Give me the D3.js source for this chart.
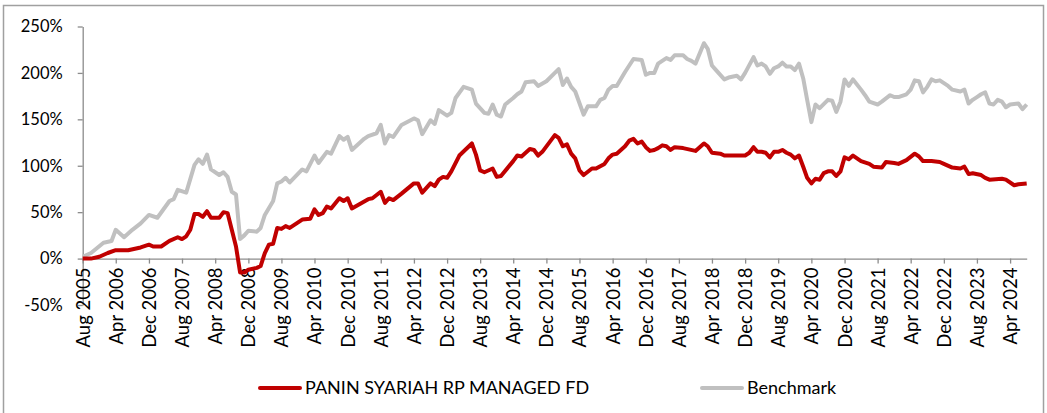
<!DOCTYPE html>
<html>
<head>
<meta charset="utf-8">
<script src="https://cdn.jsdelivr.net/npm/d3@7"></script>
<style>
  body { margin: 0; background: #fff; }
  svg text { font-family: Lato, "Liberation Sans", sans-serif; fill: #000; }
</style>
</head>
<body>
<div class="chart-box"></div>
<script>
// month offsets from Aug 2005, cumulative return in %
var startDate = new Date(2005, 7, 1);
var lastMonth = 228;

var fundName = "PANIN SYARIAH RP MANAGED FD";
var benchName = "Benchmark";

var fund = [[0,0],[2,0],[4,2],[6,6],[8,9],[11,9],[14,12],[16,15],[17,13],[19,13],[21,19],[23,23],[24,21],[25,24],[26,31],[27,48],[28,48],[29,45],[30,51],[31,44],[33,44],[34,50],[35,49],[36,31],[37,13],[38,-15],[39,-15],[40,-12],[42,-10],[43,-8],[44,6],[45,15],[46,16],[47,33],[48,32],[49,35],[50,33],[53,42],[55,43],[56,53],[57,47],[58,49],[59,56],[60,54],[62,65],[63,62],[64,65],[65,54],[69,64],[70,65],[72,72],[73,60],[74,65],[75,63],[77,70],[80,81],[81,81],[82,71],[84,81],[85,78],[86,85],[87,88],[88,87],[89,94],[91,111],[94,124],[95,112],[96,95],[97,93],[99,97],[100,88],[101,89],[104,105],[105,111],[106,110],[108,118],[109,117],[110,111],[111,115],[114,133],[115,130],[116,121],[117,123],[118,113],[119,108],[120,95],[121,90],[123,97],[124,97],[126,102],[127,108],[128,112],[129,113],[131,121],[132,127],[133,129],[134,124],[135,126],[136,120],[137,116],[138,117],[139,119],[140,122],[141,121],[142,117],[143,120],[145,119],[148,116],[150,124],[151,121],[152,114],[154,113],[155,111],[160,111],[161,114],[162,120],[163,115],[164,115],[165,114],[166,109],[167,115],[168,115],[169,117],[170,114],[171,112],[172,108],[173,111],[174,99],[175,87],[176,81],[177,86],[178,85],[179,92],[180,94],[181,94],[182,89],[183,94],[184,109],[185,107],[186,111],[188,105],[190,102],[191,99],[193,98],[194,104],[196,103],[197,102],[199,106],[201,113],[202,110],[203,105],[205,105],[207,104],[208,102],[210,98],[212,97],[213,99],[214,91],[215,92],[217,90],[218,87],[219,85],[222,86],[223,85],[225,79],[226,80],[228,81]];

var bench = [[0,2],[2,6],[5,17],[7,19],[8,31],[10,23],[12,31],[14,38],[16,47],[18,44],[21,62],[22,64],[23,74],[25,71],[27,101],[28,107],[29,102],[30,112],[31,96],[33,90],[34,93],[35,88],[36,72],[37,69],[38,21],[39,25],[40,30],[42,29],[43,33],[44,47],[46,62],[47,81],[48,83],[49,87],[50,82],[53,96],[54,94],[56,111],[57,103],[59,115],[60,113],[62,132],[63,128],[64,131],[65,117],[68,129],[69,132],[71,135],[72,144],[73,124],[74,133],[75,131],[77,144],[80,151],[81,149],[82,134],[84,149],[85,145],[86,160],[87,157],[88,154],[89,157],[90,173],[92,185],[94,182],[95,167],[97,157],[98,156],[99,166],[100,155],[101,153],[102,166],[104,173],[105,177],[106,180],[107,190],[109,191],[110,186],[112,191],[114,200],[115,204],[116,187],[117,194],[118,185],[119,180],[121,155],[122,164],[124,164],[125,171],[126,173],[127,182],[128,186],[129,186],[131,201],[133,215],[135,214],[136,198],[137,200],[138,200],[139,210],[141,216],[142,214],[143,219],[145,219],[146,215],[147,213],[148,210],[150,232],[151,226],[152,208],[153,203],[155,193],[156,195],[158,197],[159,193],[160,200],[162,217],[163,208],[164,210],[165,207],[166,199],[167,205],[168,207],[169,211],[170,207],[171,207],[172,203],[173,210],[174,194],[175,171],[176,147],[177,166],[178,162],[180,171],[181,170],[182,158],[183,169],[184,193],[185,186],[186,193],[188,182],[189,176],[190,169],[192,166],[193,169],[195,176],[196,174],[197,174],[199,177],[200,182],[201,192],[202,191],[203,179],[204,185],[205,193],[206,191],[207,192],[209,186],[210,182],[212,180],[213,182],[214,167],[215,171],[216,174],[217,177],[218,179],[219,167],[220,166],[221,171],[222,169],[223,163],[224,166],[226,167],[227,161],[228,166]];

var yTicks = [-50, 0, 50, 100, 150, 200, 250];
var tickEvery = 8;

var width = 1047, height = 413;
var plot = {left: 82.7, right: 1026.7, top: 26.5, bottom: 305};

var svg = d3.select('.chart-box').append("svg")
    .attr("width", width)
    .attr("height", height);

// outer frame
svg.append("rect")
    .attr("x", 3.5).attr("y", 5.5)
    .attr("width", 1040).attr("height", 420)
    .attr("fill", "none")
    .attr("stroke", "#a0a0a0")
    .attr("stroke-width", 1.5);

var x = d3.scaleTime()
    .domain([startDate, d3.timeMonth.offset(startDate, lastMonth)])
    .range([plot.left, plot.right]);

var y = d3.scaleLinear()
    .domain([-50, 250])
    .range([plot.bottom, plot.top]);

function monthDate(m) { return d3.timeMonth.offset(startDate, m); }

// y axis
var yAxis = svg.append("g")
    .attr("transform", "translate(" + plot.left + ",0)")
    .call(d3.axisLeft(y).tickValues(yTicks).tickSize(5).tickSizeOuter(0)
      .tickFormat(function(d) { return d + "%"; }));
yAxis.selectAll("line, path").attr("stroke", "#8c8c8c").attr("stroke-width", 1.3);
yAxis.selectAll("text")
    .attr("x", -20)
    .style("font-size", "16.5px");

// x axis at 0%
var xTickVals = d3.range(0, lastMonth, tickEvery).map(monthDate);
var xAxis = svg.append("g")
    .attr("transform", "translate(0," + y(0) + ")")
    .call(d3.axisBottom(x).tickValues(xTickVals).tickSize(5).tickSizeOuter(0)
      .tickFormat(d3.timeFormat("%b %Y")));
xAxis.selectAll("line, path").attr("stroke", "#8c8c8c").attr("stroke-width", 1.3);
xAxis.selectAll("text")
    .attr("transform", "rotate(-90)")
    .attr("x", -9)
    .attr("y", 0)
    .attr("dy", "0.35em")
    .style("text-anchor", "end")
    .style("font-size", "18.5px");

var line = d3.line()
    .x(function(d) { return x(monthDate(d[0])); })
    .y(function(d) { return y(d[1]); });

svg.append("path")
    .datum(bench)
    .attr("fill", "none")
    .attr("stroke", "#c0c0c0")
    .attr("stroke-width", 4)
    .attr("stroke-linejoin", "round")
    .attr("d", line);

svg.append("path")
    .datum(fund)
    .attr("fill", "none")
    .attr("stroke", "#c00000")
    .attr("stroke-width", 4)
    .attr("stroke-linejoin", "round")
    .attr("d", line);

// legend
var legend = [
  {name: fundName, color: "#c00000", x: 260},
  {name: benchName, color: "#c0c0c0", x: 702}
];
var lg = svg.append("g").selectAll("g")
    .data(legend)
    .enter().append("g")
    .attr("transform", function(d) { return "translate(" + d.x + ",388)"; });
lg.append("line")
    .attr("x1", 0).attr("x2", 40)
    .attr("stroke", function(d) { return d.color; })
    .attr("stroke-width", 4)
    .attr("stroke-linecap", "round");
lg.append("text")
    .attr("x", 45)
    .attr("dy", "0.35em")
    .style("font-size", "18px")
    .text(function(d) { return d.name; });
</script>
</body>
</html>
